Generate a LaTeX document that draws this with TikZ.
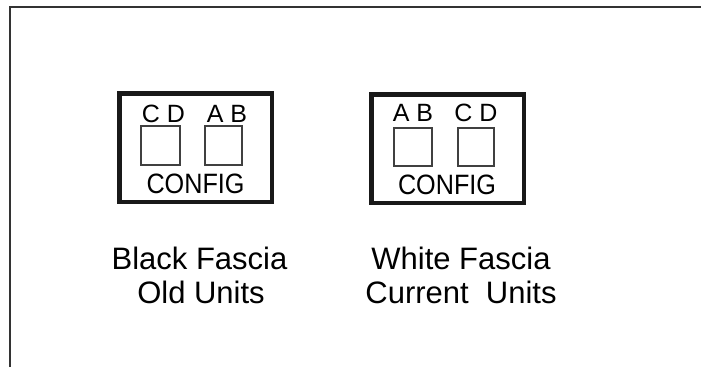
\documentclass[tikz,border=0pt]{standalone}
\usepackage{fontspec}
\setmainfont{Liberation Sans}
\begin{document}
\begin{tikzpicture}[x=1pt,y=-1pt,
  frameline/.style={line width=2pt,draw=black!80},
  outerbox/.style={draw=black!90,line width=4.5pt,inner sep=0pt,rectangle},
  sqbox/.style={draw=black!75,line width=1.1pt,inner sep=0pt,rectangle},
  letters/.style={anchor=base,inner sep=0pt,font=\fontsize{25}{25}\selectfont},
  cfg/.style={anchor=base,inner sep=0pt,font=\fontsize{28}{28}\selectfont,xscale=0.9},
  lbl/.style={anchor=base,inner sep=0pt,font=\fontsize{31}{31}\selectfont}]
\useasboundingbox (0,0) rectangle (701,367);
\coordinate (fb) at (10,367);
\coordinate (fc) at (10,7);
\coordinate (fr) at (701,7);
\draw[frameline] (fb) -- (fc) -- (fr);
% box 1
\node[outerbox,minimum width=152.5pt,minimum height=108.5pt] (b1) at (195.5,147.5) {};
\node[sqbox,minimum width=39pt,minimum height=39pt] (s1a) at (160.5,145.5) {};
\node[sqbox,minimum width=37pt,minimum height=39pt] (s1b) at (223.5,145.5) {};
\node[letters] (t1a) at (163.5,122) {C D};
\node[letters] (t1b) at (227,122) {A B};
\node[cfg] (c1) at (195.5,193) {CONFIG};
% box 2
\node[outerbox,minimum width=152.5pt,minimum height=108.5pt] (b2) at (447.5,148.5) {};
\node[sqbox,minimum width=38pt,minimum height=38pt] (s2a) at (413,147) {};
\node[sqbox,minimum width=36pt,minimum height=38pt] (s2b) at (476,147) {};
\node[letters] (t2a) at (413,121) {A B};
\node[letters] (t2b) at (476,121) {C D};
\node[cfg] (c2) at (447,194) {CONFIG};
% labels
\node[lbl] (l1a) at (199.5,269) {Black Fascia};
\node[lbl] (l1b) at (201,303) {Old Units};
\node[lbl] (l2a) at (461,269) {White Fascia};
\node[lbl] (l2b) at (461,303) {Current\ \ Units};
\end{tikzpicture}
\end{document}
